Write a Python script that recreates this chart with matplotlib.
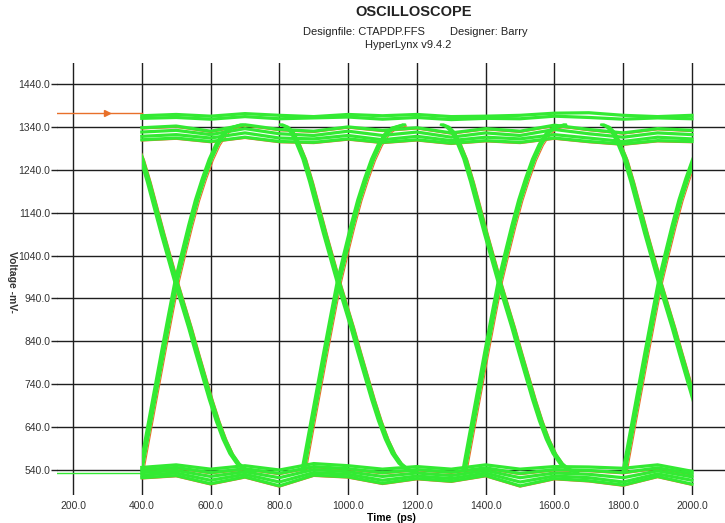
import matplotlib
matplotlib.use('Agg')
import matplotlib.pyplot as plt
from matplotlib.patches import Rectangle

plt.rcParams['font.family'] = ['Liberation Sans', 'DejaVu Sans']

# eye crossing times (ps)
cross_t = [500, 972, 1440, 1906]

# rising / falling edge shapes around a crossing (ps offset, mV)
rise_dt = [-102, -98, -70, -40, -20, 0, 20, 40, 60, 80, 100, 120, 140, 160, 190]
rise_v = [540, 558, 680, 810, 895, 978, 1045, 1110, 1170, 1220, 1265, 1300, 1325, 1338, 1345]
fall_dt = [-165, -150, -135, -120, -100, -80, -60, -40, -20, 0, 20, 40, 60, 80, 100,
           120, 140, 160, 180, 200, 225]
fall_v = [1345, 1340, 1328, 1305, 1266, 1212, 1152, 1092, 1035, 978, 925, 872, 815, 760, 705,
          655, 612, 578, 555, 542, 535]
edge_jitter = [-5, -2, 1, 4]

# high / low level traces sampled every 100 ps
level_t = [400, 500, 600, 700, 800, 900, 1000, 1100, 1200, 1300, 1400, 1500, 1600, 1700, 1800, 1900, 2000]
hi_1 = [1366, 1369, 1365, 1371, 1367, 1364, 1369, 1366, 1369, 1364, 1365, 1367, 1372, 1373, 1367, 1364, 1367]
hi_2 = [1360, 1362, 1358, 1364, 1359, 1361, 1363, 1358, 1362, 1357, 1360, 1359, 1365, 1362, 1358, 1361, 1359]
hi_3 = [1338, 1342, 1330, 1345, 1334, 1330, 1340, 1332, 1338, 1326, 1336, 1330, 1344, 1334, 1326, 1336, 1332]
hi_4 = [1328, 1332, 1322, 1336, 1324, 1320, 1330, 1320, 1328, 1316, 1326, 1320, 1334, 1324, 1316, 1326, 1322]
hi_5 = [1318, 1322, 1314, 1326, 1314, 1312, 1320, 1310, 1318, 1308, 1316, 1312, 1322, 1314, 1306, 1316, 1312]
hi_6 = [1310, 1314, 1306, 1316, 1306, 1304, 1312, 1304, 1310, 1302, 1308, 1304, 1314, 1306, 1300, 1308, 1306]
lo_1 = [546, 552, 542, 550, 540, 555, 550, 542, 548, 542, 552, 542, 548, 547, 544, 552, 537]
lo_2 = [540, 546, 534, 543, 532, 548, 543, 534, 541, 535, 545, 532, 541, 539, 534, 545, 531]
lo_3 = [534, 539, 525, 536, 522, 541, 536, 525, 533, 527, 539, 522, 533, 530, 522, 538, 524]
lo_4 = [528, 533, 516, 530, 512, 534, 530, 516, 526, 520, 533, 512, 526, 522, 512, 531, 516]
lo_5 = [522, 527, 508, 524, 503, 528, 524, 509, 520, 514, 527, 503, 520, 515, 505, 525, 507]

# probe markers on the left
probe_t = [150, 400]
probe_hi = [1372, 1372]
probe_lo = [534, 534]
probe_arrow_t = 300

green = '#33ea33'
orange = '#e8702a'

fig = plt.figure(figsize=(7.25, 5.23), dpi=100)
ax = fig.add_axes([57 / 725, 28 / 523, 668 / 725, 432 / 523])
ax.set_xlim(153.5, 2096)
ax.set_ylim(481.7, 1489)

clip = Rectangle((400, 0), 1600, 3000, transform=ax.transData)

for c in cross_t:
    for dts, vs in [(rise_dt, rise_v), (fall_dt, fall_v)]:
        t = [c + d + 8 for d in dts]
        ln, = ax.plot(t, [v - 3 for v in vs], color=orange, lw=0.8, zorder=3)
        ln.set_clip_path(clip)
    for j in edge_jitter:
        for dts, vs in [(rise_dt, rise_v), (fall_dt, fall_v)]:
            t = [c + d + j for d in dts]
            ln, = ax.plot(t, vs, color=green, lw=1.7, zorder=4)
            ln.set_clip_path(clip)

for tr in [hi_3, hi_6, lo_2, lo_5]:
    ax.plot(level_t, [v - 3 for v in tr], color=orange, lw=0.8, zorder=3)
for tr in [hi_1, hi_2, hi_3, hi_4, hi_5, hi_6, lo_1, lo_2, lo_3, lo_4, lo_5]:
    ax.plot(level_t, tr, color=green, lw=2.3, zorder=4)

ax.plot(probe_t, probe_hi, color=orange, lw=1.0, zorder=3)
ax.plot([probe_arrow_t], [probe_hi[0]], marker='>', color=orange, ms=4, zorder=3)
ax.plot(probe_t, probe_lo, color=green, lw=1.0, zorder=3)

xt = list(range(200, 2001, 200))
yt = list(range(540, 1441, 100))
ax.set_xticks(xt)
ax.set_xticklabels([f"{v:.1f}" for v in xt], fontsize=7.5, color='#333333')
ax.set_yticks(yt)
ax.set_yticklabels([f"{v:.1f}" for v in yt], fontsize=7.5, color='#333333')
ax.tick_params(axis='x', length=0, pad=4)
ax.tick_params(axis='y', length=4, width=1.0, color='#222222', pad=1)
ax.grid(True, color='#1e1e1e', lw=1.0)
ax.set_axisbelow(True)
for s in ax.spines.values():
    s.set_visible(False)

ax.set_xlabel('Time  (ps)', fontsize=7.5, fontweight='bold', labelpad=2)
fig.text(12 / 725, 1 - 282 / 523, 'Voltage -mV-', rotation=-90, ha='center', va='center',
         fontsize=7.5, fontweight='bold', color='#333333')

fig.text(414 / 725, 1 - 12 / 523, 'OSCILLOSCOPE', ha='center', va='center',
         fontsize=10.5, fontweight='bold', color='#222222')
fig.text(303 / 725, 1 - 32 / 523, 'Designfile: CTAPDP.FFS', ha='left', va='center',
         fontsize=8, color='#222222')
fig.text(450 / 725, 1 - 32 / 523, 'Designer: Barry', ha='left', va='center',
         fontsize=8, color='#222222')
fig.text(408 / 725, 1 - 45 / 523, 'HyperLynx v9.4.2', ha='center', va='center',
         fontsize=8, color='#222222')

fig.savefig('out.png', dpi=100)
